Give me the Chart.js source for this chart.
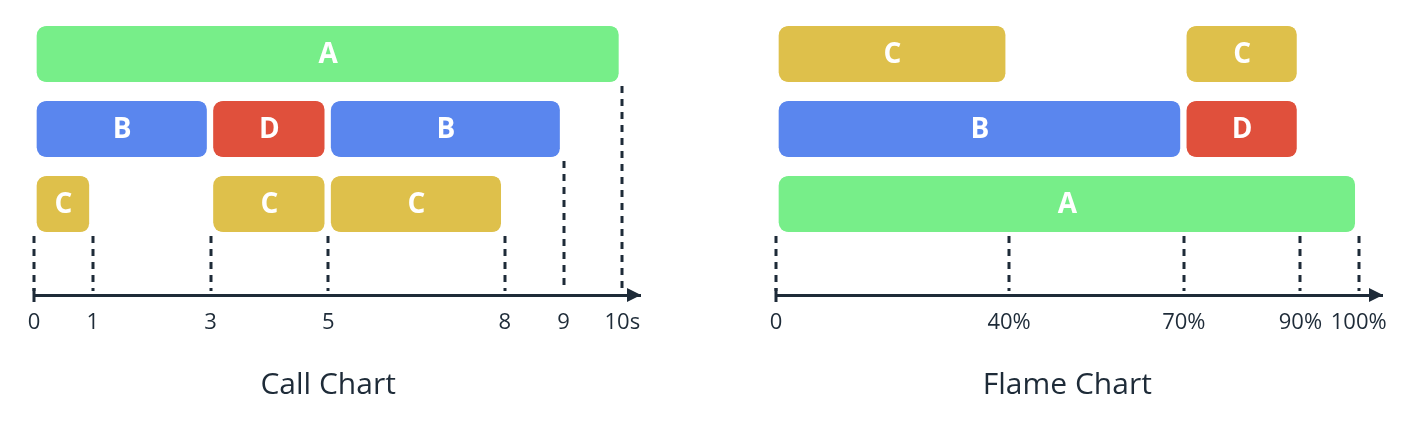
<!DOCTYPE html>
<html>
<head>
<meta charset="utf-8">
<script src="https://cdn.jsdelivr.net/npm/chart.js@4/dist/chart.umd.min.js"></script>
<style>
  body { margin: 0; background: #fff; }
  .wrap { display: flex; width: 1414px; height: 421px; }
  canvas { display: block; }
</style>
</head>
<body>
<div class="wrap">
  <canvas id="callChart" width="707" height="421"></canvas>
  <canvas id="flameChart" width="707" height="421"></canvas>
</div>
<script>
// Call chart data (time in seconds, depth 0 = top row)
const callNames = ['A', 'B', 'D', 'B', 'C', 'C', 'C'];
const callStart = [0, 0, 3, 5, 0, 3, 5];
const callEnd = [10, 3, 5, 9, 1, 5, 8];
const callDepth = [0, 1, 1, 1, 2, 2, 2];
const callTicks = [0, 1, 3, 5, 8, 9, 10];
const callTickLabels = ['0', '1', '3', '5', '8', '9', '10s'];

// Flame chart data (percent of time, depth 0 = bottom row)
const flameNames = ['A', 'B', 'D', 'C', 'C'];
const flameStart = [0, 0, 70, 0, 70];
const flameEnd = [100, 70, 90, 40, 90];
const flameDepth = [0, 1, 1, 2, 2];
const flameTicks = [0, 40, 70, 90, 100];
const flameTickLabels = ['0', '40%', '70%', '90%', '100%'];

const colorOf = { A: '#77EE89', B: '#5A86EE', C: '#DEC04B', D: '#E0503C' };
const ink = '#1E2B38';

// draws bar names, dashed guides, axis arrow and the title
const decorPlugin = {
    id: 'decor',
    afterDatasetsDraw(chart, args, opts) {
        const ctx = chart.ctx;
        const x = chart.scales.x;
        const y = chart.scales.y;
        const meta = chart.getDatasetMeta(0);

        // names inside bars
        ctx.save();
        ctx.fillStyle = '#fff';
        ctx.font = 'bold 28px "Open Sans"';
        ctx.textAlign = 'center';
        ctx.textBaseline = 'middle';
        meta.data.forEach((bar, i) => {
            ctx.fillText(opts.names[i], (bar.x + bar.base) / 2, bar.y + 1);
        });
        ctx.restore();

        // dashed guides from below the lowest bar touching each tick
        const axisY = chart.chartArea.bottom;
        ctx.save();
        ctx.strokeStyle = ink;
        ctx.lineWidth = 3;
        ctx.setLineDash([7, 6]);
        opts.ticks.forEach(v => {
            let row = null;
            opts.start.forEach((s, i) => {
                if (s <= v && v <= opts.end[i]) {
                    const py = y.getPixelForValue(opts.depth[i]);
                    if (row === null || py > row) row = py;
                }
            });
            const top = row === null ? chart.chartArea.top : row + 28 + 4;
            const px = Math.round(x.getPixelForValue(v));
            ctx.beginPath();
            ctx.moveTo(px, top);
            ctx.lineTo(px, axisY - 4);
            ctx.stroke();
        });
        ctx.restore();

        // axis start cap and arrow head
        const left = chart.chartArea.left;
        const right = chart.chartArea.right;
        ctx.save();
        ctx.fillStyle = ink;
        ctx.fillRect(left - 1.5, axisY - 7, 3, 14);
        ctx.beginPath();
        ctx.moveTo(right + 1, axisY);
        ctx.lineTo(right - 13, axisY - 7);
        ctx.lineTo(right - 13, axisY + 7);
        ctx.closePath();
        ctx.fill();

        // title centered over the data range
        const cx = (x.getPixelForValue(opts.ticks[0]) + x.getPixelForValue(opts.ticks[opts.ticks.length - 1])) / 2;
        ctx.font = '30px "Open Sans"';
        ctx.textAlign = 'center';
        ctx.textBaseline = 'middle';
        ctx.fillText(opts.title, cx, 385);
        ctx.restore();
    }
};

function makeChart(id, cfg) {
    const data = cfg.start.map((s, i) => ({ x: [s, cfg.end[i]], y: cfg.depth[i] }));
    return new Chart(document.getElementById(id), {
        type: 'bar',
        data: {
            datasets: [{
                data: data,
                backgroundColor: cfg.names.map(n => colorOf[n]),
                borderColor: '#fff',
                borderWidth: { left: 3, right: 4, top: 0, bottom: 0 },
                borderSkipped: false,
                borderRadius: 13,
                barThickness: 56
            }]
        },
        options: {
            indexAxis: 'y',
            responsive: false,
            animation: false,
            layout: { padding: cfg.padding },
            plugins: {
                legend: { display: false },
                tooltip: { enabled: false },
                decor: {
                    names: cfg.names, start: cfg.start, end: cfg.end,
                    depth: cfg.depth, ticks: cfg.ticks, title: cfg.title
                }
            },
            scales: {
                x: {
                    type: 'linear',
                    min: 0,
                    max: cfg.xMax,
                    grid: { display: false, drawTicks: false },
                    border: { display: true, color: ink, width: 3 },
                    afterBuildTicks: scale => {
                        scale.ticks = cfg.ticks.map(v => ({ value: v }));
                    },
                    afterFit: scale => { scale.height = 126; },
                    ticks: {
                        autoSkip: false,
                        maxRotation: 0,
                        padding: 15,
                        color: ink,
                        font: { family: '"Open Sans"', size: 22 },
                        callback: (v) => cfg.tickLabels[cfg.ticks.indexOf(v)]
                    }
                },
                y: {
                    type: 'linear',
                    display: false,
                    offset: false,
                    min: cfg.yMin,
                    max: cfg.yMax,
                    reverse: cfg.reverse
                }
            }
        },
        plugins: [decorPlugin]
    });
}

makeChart('callChart', {
    names: callNames, start: callStart, end: callEnd, depth: callDepth,
    ticks: callTicks, tickLabels: callTickLabels, title: 'Call Chart',
    xMax: 10.3, yMin: -0.5, yMax: 3.213, reverse: true,
    padding: { left: 34, right: 67, top: 16.5, bottom: 0 }
});

makeChart('flameChart', {
    names: flameNames, start: flameStart, end: flameEnd, depth: flameDepth,
    ticks: flameTicks, tickLabels: flameTickLabels, title: 'Flame Chart',
    xMax: 104, yMin: -1.213, yMax: 2.5, reverse: false,
    padding: { left: 69, right: 32, top: 16.5, bottom: 0 }
});
</script>
</body>
</html>
